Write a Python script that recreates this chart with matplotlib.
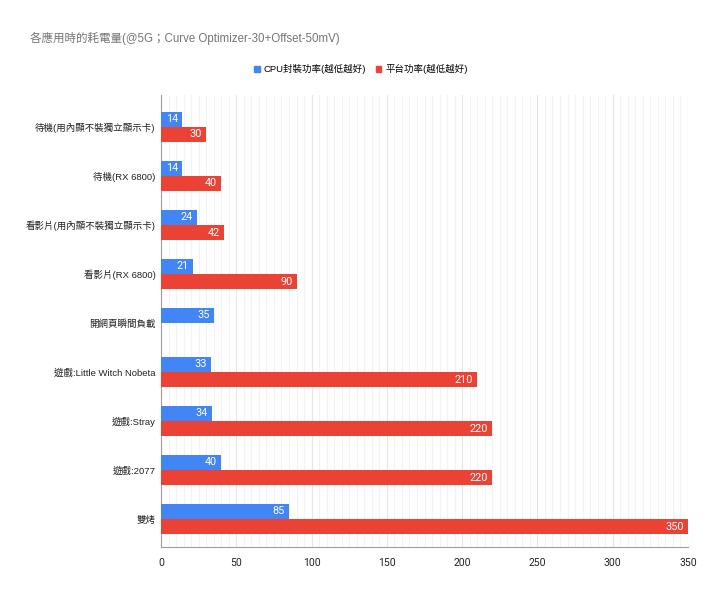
import numpy as np
import matplotlib.pyplot as plt
from matplotlib.ticker import MultipleLocator

plt.rcParams['font.family'] = ['Liberation Sans', 'Noto Sans CJK TC']

categories = ['待機(用內顯不裝獨立顯示卡)', '待機(RX 6800)', '看影片(用內顯不裝獨立顯示卡)',
              '看影片(RX 6800)', '開網頁瞬間負載', '遊戲:Little Witch Nobeta',
              '遊戲:Stray', '遊戲:2077', '雙烤']
cpu_power = [14, 14, 24, 21, 35, 33, 34, 40, 85]
platform_power = [30, 40, 42, 90, None, 210, 220, 220, 350]
series_names = ['CPU封裝功率(越低越好)', '平台功率(越低越好)']
colors = ['#4285F4', '#EA4335']

fig = plt.figure(figsize=(7.2, 5.98), dpi=100)
ax = fig.add_axes([161 / 720, 1 - 547 / 598, (688 - 161) / 720, (547 - 95) / 598])

y = np.arange(len(categories))
h = 0.31
for vals, off, col in [(cpu_power, -h / 2, colors[0]), (platform_power, h / 2, colors[1])]:
    for i, v in enumerate(vals):
        if v is None:
            continue
        ax.barh(y[i] + off, v, height=h, color=col, zorder=3)
        ax.text(v - 2.7, y[i] + off, str(v), color='white', fontsize=7.8,
                family=['Roboto', 'DejaVu Sans'], ha='right', va='center', zorder=4)

ax.set_ylim(8.57, -0.65)
ax.set_xlim(0, 350)
ax.set_yticks(y)
ax.set_yticklabels(categories, fontsize=6.8, color='#222222', fontweight='medium')
ax.xaxis.set_major_locator(MultipleLocator(50))
ax.xaxis.set_minor_locator(MultipleLocator(5))
ax.tick_params(axis='x', labelsize=7.5, colors='#222222', length=0, which='both', pad=8)
for lbl in ax.get_xticklabels():
    lbl.set_family(['Roboto', 'DejaVu Sans'])
ax.tick_params(axis='y', length=0, pad=4)
ax.grid(axis='x', which='major', color='#e6e6e6', lw=0.8, zorder=0)
ax.grid(axis='x', which='minor', color='#f3f3f3', lw=0.8, zorder=0)
for s in ['top', 'right']:
    ax.spines[s].set_visible(False)
for s in ['left', 'bottom']:
    ax.spines[s].set_color('#9e9e9e')

fig.text(30 / 720, 1 - 38 / 598, '各應用時的耗電量(@5G；Curve Optimizer-30+Offset-50mV)',
         fontsize=8.3, color='#757575', va='center')

handles = [plt.Rectangle((0, 0), 1, 1, color=c) for c in colors]
fig.legend(handles, series_names, loc='center', bbox_to_anchor=(361 / 720, 1 - 69 / 598),
           ncol=2, frameon=False, fontsize=6.8, handlelength=0.6, handleheight=0.6,
           handletextpad=0.4, columnspacing=1.0)

fig.savefig('out.png', dpi=100)
